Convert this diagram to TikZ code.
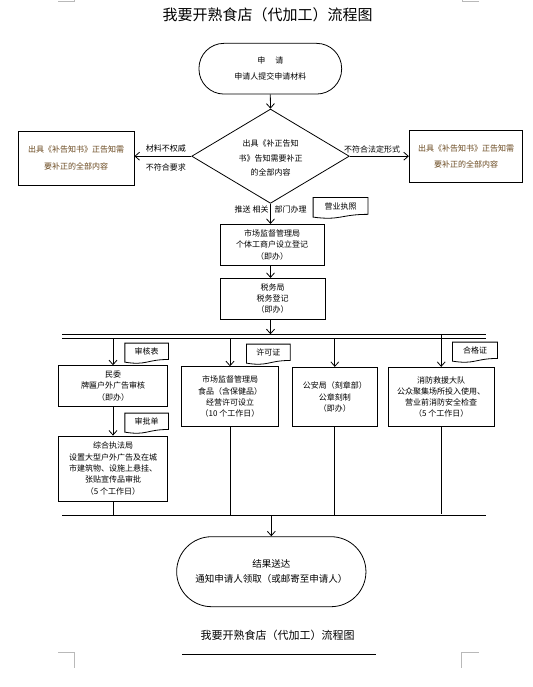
\documentclass[tikz,border=0pt]{standalone}
\usepackage{fontspec}
\setmainfont{Noto Sans CJK SC}
\usetikzlibrary{arrows.meta,shapes.geometric,calc}
\definecolor{browntext}{RGB}{105,72,30}
\definecolor{cropgray}{RGB}{185,185,185}
\newcommand{\wavedoc}[2]{\draw[docline] (#1.north west) -- (#1.north east) -- ($(#1.north east)!0.802!(#1.south east)$) .. controls ($(#1.north)!0.802!(#1.south)$) and ($(#1.north)!1.1075!(#1.south)$) .. ($(#1.north west)!0.934!(#1.south west)$) -- cycle;
  \node[doctext] (#1t) at ($(#1.north)!0.42!(#1.south)$) {#2};}
\tikzset{
  box/.style={draw, line width=0.8pt, rectangle, inner sep=0pt, align=center, font=\fontsize{8}{11.3}\selectfont},
  term/.style={draw, line width=0.8pt, rectangle, inner sep=0pt, align=center},
  arr/.style={line width=0.8pt, -{Straight Barb[length=4.5pt,width=8pt]}},
  ln/.style={line width=0.8pt},
  lbl/.style={inner sep=0pt, font=\fontsize{8}{10}\selectfont},
  docnode/.style={inner sep=0pt},
  doctext/.style={inner sep=0pt, font=\fontsize{8}{10}\selectfont},
  docline/.style={line width=0.8pt},
  cropline/.style={draw=cropgray, line width=0.6pt}
}
\begin{document}
\begin{tikzpicture}[x=1pt,y=-1pt]
\useasboundingbox (0,0) rectangle (532,687);
\fill[white] (0,0) rectangle (532,687);

% crop marks
\draw[cropline] (58,1) -- (74.5,1) -- (74.5,0);
\draw[cropline] (479,1) -- (462,1) -- (462,0);
\draw[cropline] (58.3,652.3) -- (74.3,652.3) -- (74.3,668.3);
\draw[cropline] (478.5,652.3) -- (461.7,652.3) -- (461.7,668.3);

% title
\node[inner sep=0pt, font=\fontsize{15}{18}\selectfont] (title) at (267.5,15) {我要开熟食店（代加工）流程图};

% start terminal
\node[term, rounded corners=25pt, minimum width=142.7pt, minimum height=50.7pt, font=\fontsize{8}{16}\selectfont] (start) at (270.3,68.7) {申\hspace{10pt}请\\申请人提交申请材料};

% diamond
\node[draw, line width=0.8pt, shape=diamond, inner sep=0pt, minimum width=157.6pt, minimum height=94.3pt] (dia) at (270.5,156.2) {};
\node[inner sep=0pt, align=center, font=\fontsize{8}{14.5}\selectfont] (diatext) at (270.5,158) {出具《补正告知\\书》告知需要补正\\的全部内容};

% side boxes
\node[box, text=browntext, minimum width=115.7pt, minimum height=54pt, font=\fontsize{8}{16.5}\selectfont] (lbox) at (76.2,158) {出具《补告知书》正告知需\\要补正的全部内容};
\node[box, text=browntext, minimum width=113.5pt, minimum height=51.6pt, font=\fontsize{8}{16}\selectfont] (rbox) at (466,156.5) {出具《补告知书》正告知需\\要补正的全部内容};

\draw[arr] (start.south) -- (dia.north);
\draw[arr] (dia.west) -- (dia.west -| lbox.east);
\draw[arr] (dia.east) -- (dia.east -| rbox.west);
\node[lbl] (l1) at (165.8,148.3) {材料不权威};
\node[lbl] (l2) at (165.8,167.7) {不符合要求};
\node[lbl] (l3) at (372,149.3) {不符合法定形式};

% main column
\node[box, minimum width=104pt, minimum height=40.7pt] (scj) at (272,244.7) {市场监督管理局\\个体工商户设立登记\\（即办）};
\node[box, minimum width=105.5pt, minimum height=40.7pt] (swj) at (272.7,298.7) {税务局\\税务登记\\（即办）};

\draw[arr] (dia.south) -- (dia.south |- scj.north);
\node[lbl] (l4) at (251.6,209) {推送 相关};
\node[lbl] (l5) at (290.5,209) {部门办理};

\node[docnode, minimum width=54.4pt, minimum height=20.6pt] (yyzz) at (340.5,208) {};
\wavedoc{yyzz}{营业执照}

\draw[arr] (scj.south -| dia.south) -- (swj.north -| dia.south);

% upper bus
\coordinate (busA1) at (62,334.3);
\coordinate (busA2) at (486,334.3);
\coordinate (busB1) at (62,338.3);
\coordinate (busB2) at (486,338.3);
\draw[ln] (busA1) -- (busA2);
\draw[ln] (busB1) -- (busB2);
\draw[arr] (swj.south -| dia.south) -- (busA1 -| dia.south);

% department boxes
\node[box, minimum width=109.4pt, minimum height=40.3pt] (mw) at (113,385.8) {民委\\牌匾户外广告审核\\（即办）};
\node[box, minimum width=109.4pt, minimum height=65pt] (zh) at (113,468.5) {综合执法局\\设置大型户外广告及在城\\市建筑物、设施上悬挂、\\张贴宣传品审批\\（5 个工作日）};
\node[box, minimum width=96.6pt, minimum height=60pt] (sp) at (230,396.7) {市场监督管理局\\食品（含保健品）\\经营许可设立\\（10 个工作日）};
\node[box, minimum width=85pt, minimum height=59.4pt] (ga) at (334.8,397) {公安局（刻章部）\\公章刻制\\（即办）};
\node[box, minimum width=105.7pt, minimum height=59.4pt] (xf) at (441.2,397) {消防救援大队\\公众聚集场所投入使用、\\营业前消防安全检查\\（5 个工作日）};

\draw[arr] (busB1 -| mw.north) -- (mw.north);
\draw[arr] (busB1 -| sp.north) -- (sp.north);
\draw[arr] (busB1 -| ga.north) -- (ga.north);
\draw[arr] (busA1 -| xf.north) -- (xf.north);
\draw[arr] (mw.south) -- (zh.north);

% documents
\node[docnode, minimum width=43.3pt, minimum height=20pt] (shb) at (146.7,353.3) {};
\wavedoc{shb}{审核表}
\node[docnode, minimum width=43.3pt, minimum height=20pt] (xkz) at (268.3,354.3) {};
\wavedoc{xkz}{许可证}
\node[docnode, minimum width=44.6pt, minimum height=20pt] (hgz) at (475,352.3) {};
\wavedoc{hgz}{合格证}
\node[docnode, minimum width=43.3pt, minimum height=20pt] (spd) at (146.7,423.3) {};
\wavedoc{spd}{审批单}

% lower bus
\coordinate (busC1) at (62,515);
\coordinate (busC2) at (486,515);
\draw[ln] (busC1) -- (busC2);
\draw[ln] (zh.south) -- (zh.south |- busC1);
\draw[ln] (sp.south) -- (sp.south |- busC1);
\draw[ln] (ga.south) -- (ga.south |- busC1);
\draw[ln] (xf.south) -- ([yshift=1.5pt]xf.south |- busC1);

% end terminal
\node[term, rounded corners=35pt, minimum width=189.3pt, minimum height=70pt, font=\fontsize{9.5}{15.5}\selectfont] (fin) at (271.3,571.7) {结果送达\\通知申请人领取（或邮寄至申请人）};
\draw[arr] (busC1 -| fin.north) -- (fin.north);

% footer
\node[inner sep=0pt, font=\fontsize{11}{13}\selectfont] (footer) at (277.5,635.7) {我要开熟食店（代加工）流程图};
\coordinate (ul1) at (182.3,654.3);
\coordinate (ul2) at (376,654.3);
\draw[ln] (ul1) -- (ul2);
\end{tikzpicture}
\end{document}
